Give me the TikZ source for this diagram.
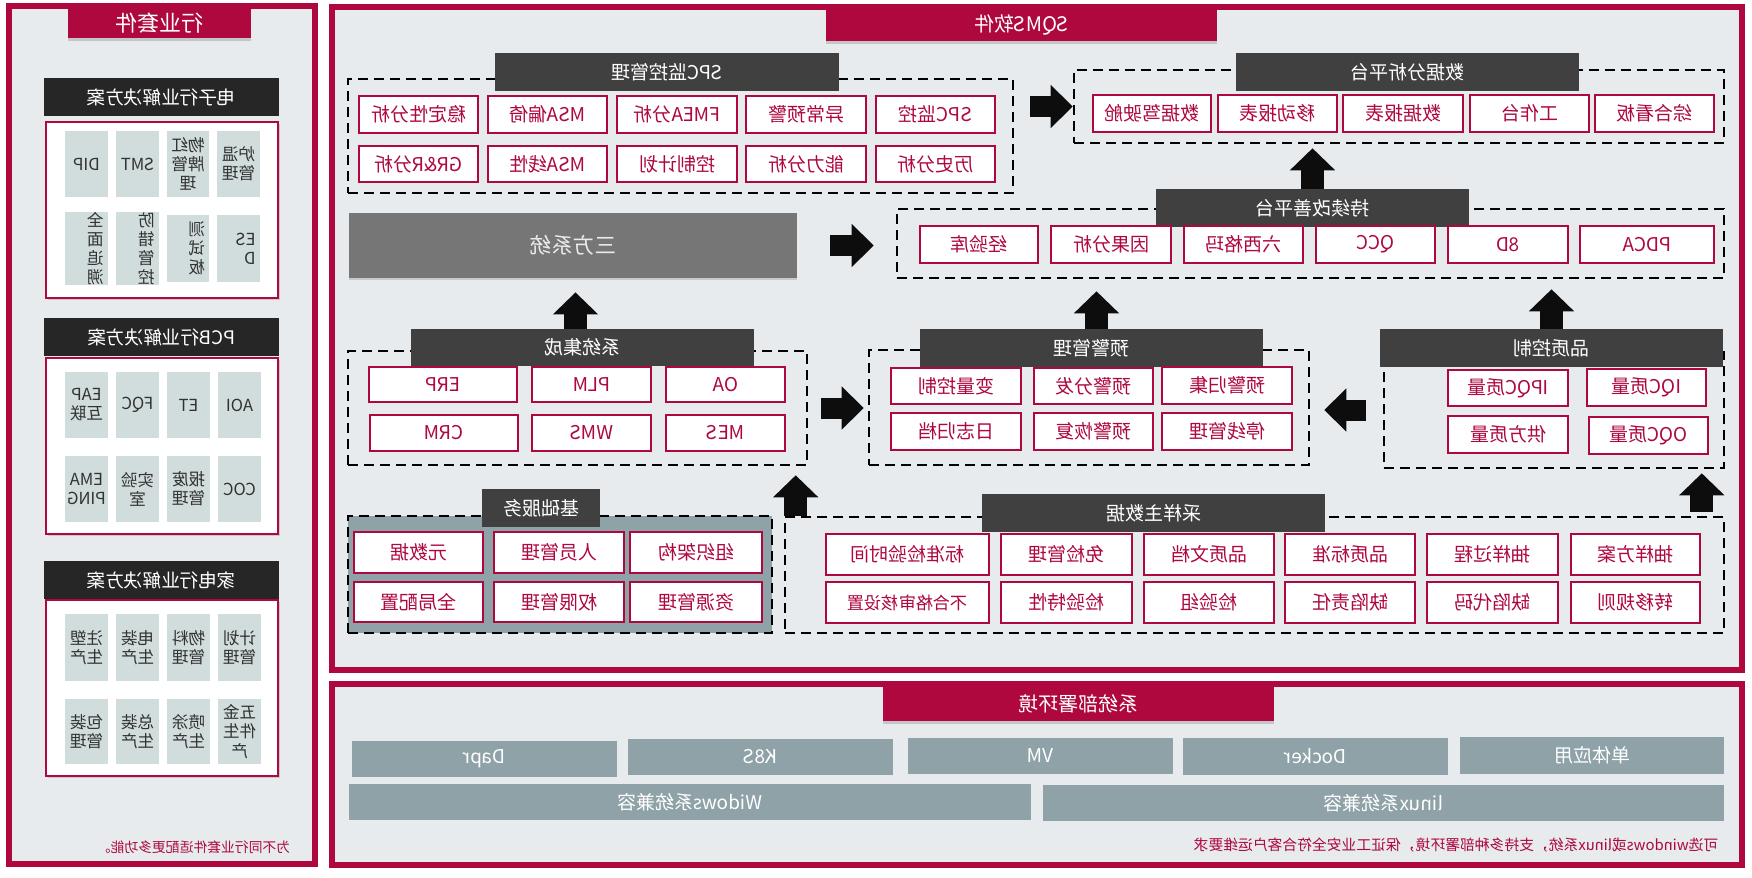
\documentclass[tikz,border=0pt]{standalone}
\usepackage{fontspec}
\setmainfont{Noto Sans CJK SC}
\usetikzlibrary{arrows.meta,shadows,calc}
\definecolor{qred}{RGB}{174,8,62}
\definecolor{panel}{RGB}{231,235,238}
\definecolor{hdr}{RGB}{64,64,64}
\definecolor{hdrL}{RGB}{38,38,38}
\definecolor{cellg}{RGB}{209,220,220}
\definecolor{slate}{RGB}{142,162,168}
\definecolor{thirdg}{RGB}{118,118,118}
\definecolor{txtd}{RGB}{50,50,50}
\definecolor{arrowc}{RGB}{13,13,13}
\newcommand\fs[1]{\fontsize{#1pt}{#1pt}\selectfont}
\newcommand\bx[7]{\node[#2, minimum width={((#5)-(#3))*0.5pt}, minimum height={((#6)-(#4))*0.5pt}] (#1) at ({((#3)+(#5))/2},{((#4)+(#6))/2}) {#7};}
\tikzset{
  mir/.style={xscale=-1},
  base/.style={mir, align=center, inner sep=0pt},
  panelbox/.style={draw=qred, line width=2.85pt, fill=panel, inner sep=0pt,
    drop shadow={shadow xshift=0.6pt, shadow yshift=-1.2pt, opacity=0.3}},
  titlebox/.style={base, fill=qred, text=white, font=\fs{10},
    drop shadow={shadow xshift=0pt, shadow yshift=-1.6pt, opacity=0.35}},
  lhdr/.style={base, fill=hdrL, text=white, font=\fs{9.3}},
  lwhite/.style={draw=qred, line width=1pt, fill=white, inner sep=0pt,
    drop shadow={shadow xshift=0.8pt, shadow yshift=-1.2pt, opacity=0.3}},
  cell/.style={base, fill=cellg, text=txtd, font={\fontsize{8.3pt}{9.6pt}\selectfont}},
  cellL/.style={cell, text width=17pt, align=left},
  hdrbox/.style={base, fill=hdr, text=white, font=\fs{9.5}},
  rbox/.style={base, draw=qred, line width=1.4pt, fill=white, text=qred, font=\fs{9.5}},
  thirdbox/.style={base, fill=thirdg, text=white!92!black, font=\fs{10.8},
    drop shadow={shadow xshift=0pt, shadow yshift=-1.2pt, opacity=0.3}},
  dashbox/.style={draw=black, line width=1.3pt, dash pattern=on 5pt off 3pt, inner sep=0pt},
  sbox/.style={base, fill=slate, text=white, font=\fs{9.5}},
  note/.style={base, text=qred},
  blkR/.style={draw=arrowc, line width=10.5pt, -{Triangle[length=11pt,width=21pt]}},
  blkU/.style={draw=arrowc, line width=11.5pt, -{Triangle[length=11pt,width=22pt]}}
}
\begin{document}
\begin{tikzpicture}[x=0.5pt, y=-0.5pt]
\fill[white] (0,0) rectangle (1752,878);
\useasboundingbox (0,0) rectangle (1752,878);

% ---------------- left panel ----------------
\bx{lpanel}{panelbox}{9}{6}{315}{864}{}
\bx{ltitle}{titlebox, font=\fs{11}}{68}{9}{251}{38}{行业套件}

\bx{eh}{lhdr}{44}{78}{279}{116}{电子行业解决方案}
\bx{ew}{lwhite}{46}{122}{278}{298}{}
\bx{e11}{cell}{65}{131}{108}{197}{DIP}
\bx{e12}{cell}{116}{131}{159}{197}{SMT}
\bx{e13}{cell}{167}{131}{209}{197}{物红\\牌管\\理}
\bx{e14}{cell}{217}{131}{260}{197}{炉温\\管理}
\bx{e21}{cellL}{65}{215}{108}{282}{全\\面\\追\\溯}
\bx{e22}{cellL}{116}{215}{159}{282}{防\\错\\管\\控}
\bx{e23}{cellL}{167}{215}{209}{282}{测\\试\\板}
\bx{e24}{cellL}{217}{215}{260}{282}{ES\\D}

\bx{ph}{lhdr}{44}{318}{279}{356}{PCB行业解决方案}
\bx{pw}{lwhite}{46}{358}{278}{534}{}
\bx{p11}{cell}{65}{372}{108}{438}{EAP\\互联}
\bx{p12}{cell}{116}{372}{159}{438}{FQC}
\bx{p13}{cell}{167}{372}{210}{438}{ET}
\bx{p14}{cell}{218}{372}{261}{438}{AOI}
\bx{p21}{cell}{65}{456}{108}{522}{EMA\\PING}
\bx{p22}{cell}{116}{456}{159}{522}{实验\\室}
\bx{p23}{cell}{167}{456}{210}{522}{报废\\管理}
\bx{p24}{cell}{218}{456}{261}{522}{COC}

\bx{hh}{lhdr}{44}{561}{279}{599}{家电行业解决方案}
\bx{hw}{lwhite}{46}{600}{278}{776}{}
\bx{h11}{cell}{65}{614}{108}{681}{注塑\\生产}
\bx{h12}{cell}{116}{614}{159}{681}{电装\\生产}
\bx{h13}{cell}{167}{614}{210}{681}{物料\\管理}
\bx{h14}{cell}{218}{614}{261}{681}{计划\\管理}
\bx{h21}{cell}{65}{699}{108}{764}{包装\\管理}
\bx{h22}{cell}{116}{699}{159}{764}{总装\\生产}
\bx{h23}{cell}{167}{699}{210}{764}{喷涂\\生产}
\bx{h24}{cell}{218}{699}{261}{764}{五金\\件生\\产}

\node[note, font=\fs{6.9}] (lnote) at (193.5,847) {为不同行业套件适配更多功能。};

% ---------------- main panel ----------------
\bx{mpanel}{panelbox}{332}{7}{1742}{670}{}
\bx{mtitle}{titlebox}{826}{9}{1217}{41}{SQMS软件}

% SPC
\bx{spc}{dashbox}{348}{79}{1013}{193}{}
\bx{spch}{hdrbox}{495}{53}{839}{91}{SPC监控管理}
\bx{s11}{rbox}{359}{96}{478}{133}{稳定性分析}
\bx{s12}{rbox}{488}{96}{607}{133}{MSA偏倚}
\bx{s13}{rbox}{617}{96}{737}{133}{FMEA分析}
\bx{s14}{rbox}{746}{96}{866}{133}{异常预警}
\bx{s15}{rbox}{876}{96}{995}{133}{SPC监控}
\bx{s21}{rbox}{359}{146}{478}{182}{GR\&R分析}
\bx{s22}{rbox}{488}{146}{607}{182}{MSA线性}
\bx{s23}{rbox}{617}{146}{737}{182}{控制计划}
\bx{s24}{rbox}{746}{146}{866}{182}{能力分析}
\bx{s25}{rbox}{876}{146}{995}{182}{历史分析}

% data analysis
\bx{data}{dashbox}{1074}{70}{1724}{143}{}
\bx{datah}{hdrbox}{1236}{53}{1579}{91}{数据分析平台}
\bx{d1}{rbox}{1093}{95}{1211}{132}{数据驾驶舱}
\bx{d2}{rbox}{1218}{95}{1337}{132}{移动报表}
\bx{d3}{rbox}{1343}{95}{1463}{132}{数据报表}
\bx{d4}{rbox}{1470}{95}{1589}{132}{工作台}
\bx{d5}{rbox}{1595}{95}{1714}{132}{综合看板}

% third party
\bx{third}{thirdbox}{349}{213}{797}{278}{三方系统}

% improvement
\bx{impr}{dashbox}{897}{209}{1724}{278}{}
\bx{imprh}{hdrbox}{1156}{189}{1469}{227}{持续改善平台}
\bx{i1}{rbox}{920}{226}{1038}{263}{经验库}
\bx{i2}{rbox}{1051}{226}{1171}{263}{因果分析}
\bx{i3}{rbox}{1184}{226}{1303}{263}{六西格玛}
\bx{i4}{rbox}{1316}{226}{1435}{263}{QCC}
\bx{i5}{rbox}{1448}{226}{1568}{263}{8D}
\bx{i6}{rbox}{1580}{226}{1714}{263}{PDCA}

% system integration
\bx{sys}{dashbox}{348}{351}{807}{465}{}
\bx{sysh}{hdrbox}{411}{329}{754}{366}{系统集成}
\bx{y11}{rbox}{369}{367}{517}{402}{ERP}
\bx{y12}{rbox}{532}{367}{651}{402}{PLM}
\bx{y13}{rbox}{666}{367}{785}{402}{OA}
\bx{y21}{rbox}{370}{415}{518}{451}{CRM}
\bx{y22}{rbox}{532}{415}{651}{451}{WMS}
\bx{y23}{rbox}{666}{415}{785}{451}{MES}

% warning
\bx{warn}{dashbox}{869}{350}{1309}{465}{}
\bx{warnh}{hdrbox}{920}{329}{1263}{367}{预警管理}
\bx{w11}{rbox}{891}{368}{1021}{404}{变量控制}
\bx{w12}{rbox}{1034}{368}{1153}{404}{预警分发}
\bx{w13}{rbox}{1162}{367}{1292}{404}{预警归集}
\bx{w21}{rbox}{891}{413}{1021}{450}{日志归档}
\bx{w22}{rbox}{1034}{413}{1153}{450}{预警恢复}
\bx{w23}{rbox}{1162}{413}{1292}{450}{停线管理}

% quality control
\bx{qual}{dashbox}{1384}{352}{1724}{468}{}
\bx{qualh}{hdrbox}{1380}{329}{1723}{367}{品质控制}
\bx{q1}{rbox}{1448}{370}{1568}{406}{IPQC质量}
\bx{q2}{rbox}{1587}{369}{1706}{406}{IQC质量}
\bx{q3}{rbox}{1448}{416}{1568}{453}{供方质量}
\bx{q4}{rbox}{1589}{417}{1708}{454}{OQC质量}

% basic services
\bx{basic}{dashbox, fill=slate}{348}{516}{772}{633}{}
\bx{basich}{hdrbox}{482}{489}{600}{527}{基础服务}
\bx{b11}{rbox}{354}{532}{483}{573}{元数据}
\bx{b12}{rbox}{494}{532}{624}{573}{人员管理}
\bx{b13}{rbox}{630}{532}{762}{573}{组织架构}
\bx{b21}{rbox}{354}{582}{483}{622}{全局配置}
\bx{b22}{rbox}{494}{582}{624}{622}{权限管理}
\bx{b23}{rbox}{630}{582}{762}{622}{资源管理}

% sampling master data
\bx{samp}{dashbox}{785}{517}{1724}{633}{}
\bx{samph}{hdrbox}{982}{494}{1325}{532}{采样主数据}
\bx{m11}{rbox}{826}{534}{989}{575}{标准检验时间}
\bx{m12}{rbox}{1001}{534}{1132}{575}{免检管理}
\bx{m13}{rbox}{1144}{534}{1274}{575}{品质文档}
\bx{m14}{rbox}{1285}{534}{1415}{575}{品质标准}
\bx{m15}{rbox}{1427}{534}{1558}{575}{抽样过程}
\bx{m16}{rbox}{1571}{534}{1700}{575}{抽样方案}
\bx{m21}{rbox, font=\fs{8.6}}{826}{582}{989}{623}{不合格审核设置}
\bx{m22}{rbox}{1001}{582}{1132}{623}{检验特性}
\bx{m23}{rbox}{1144}{582}{1274}{623}{检验组}
\bx{m24}{rbox}{1285}{582}{1415}{623}{缺陷责任}
\bx{m25}{rbox}{1427}{582}{1558}{623}{缺陷代码}
\bx{m26}{rbox}{1571}{582}{1700}{623}{转移规则}

% block arrows (third is mirrored: its west anchor is its visual right edge)
\draw[blkR] ([xshift=8pt]spc.east |- data.west) -- (data.west);
\draw[blkR] ([xshift=16.5pt]third.west) -- ([xshift=-11pt]third.west -| impr.west);
\draw[blkR] ([xshift=6.5pt]sys.east) -- ([xshift=-2pt]sys.east -| warn.west);
\draw[blkR] ([xshift=-8.5pt]qual.west) -- ([xshift=7pt]qual.west -| warn.east);
\draw[blkU, shorten >=7pt] ([xshift=-3.5pt]sysh.north) -- ([xshift=-3.5pt]sysh.north |- third.south);
\draw[blkU, shorten >=6pt] ([xshift=2.5pt]warnh.north) -- ([xshift=2.5pt]warnh.north |- impr.south);
\draw[blkU, shorten >=5pt] (qualh.north) -- (qualh.north |- impr.south);
\draw[blkU, shorten >=2pt] (imprh.north) -- (imprh.north |- data.south);
\draw[blkU, shorten >=4.5pt] ([xshift=6pt]samp.north west) -- ([xshift=6pt]samp.north west |- warn.south);
\draw[blkU, shorten >=2pt] ([xshift=-11.75pt,yshift=2pt]samp.north east) -- ([xshift=-11.75pt]samp.north east |- qual.south);

% ---------------- bottom panel ----------------
\bx{bpanel}{panelbox}{332}{684}{1742}{865}{}
\bx{btitle}{titlebox}{883}{687}{1274}{721}{系统部署环境}
\bx{e1}{sbox}{352}{741}{617}{777}{Dapr}
\bx{e2}{sbox}{628}{739}{893}{775}{K8S}
\bx{e3}{sbox}{908}{738}{1173}{774}{VM}
\bx{e4}{sbox}{1183}{738}{1448}{775}{Docker}
\bx{e5}{sbox}{1460}{737}{1724}{774}{单体应用}
\bx{e6}{sbox}{349}{784}{1031}{820}{Widows系统兼容}
\bx{e7}{sbox}{1043}{785}{1724}{821}{linux系统兼容}
\node[note, font=\fs{7.4}] (bnote) at (1456,845) {可选windows或linux系统，支持多种部署环境，保证工业安全符合客户运维要求};
\end{tikzpicture}
\end{document}
